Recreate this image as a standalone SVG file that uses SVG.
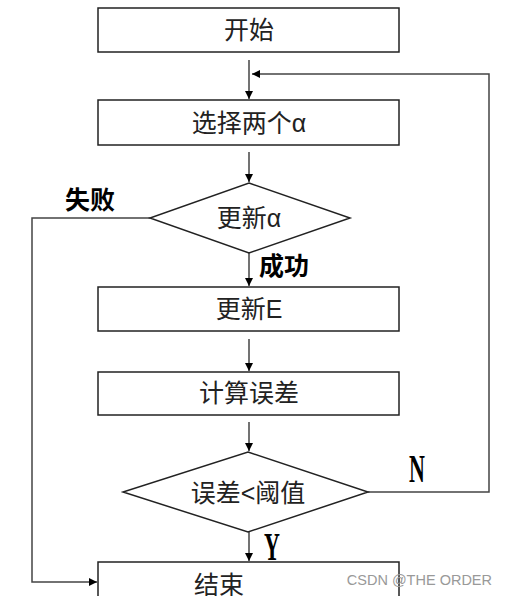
<svg xmlns="http://www.w3.org/2000/svg" width="507" height="596" viewBox="0 0 507 596">
<defs>
<marker id="ah" viewBox="0 0 10 10" refX="10" refY="5" markerWidth="8" markerHeight="8" markerUnits="userSpaceOnUse" orient="auto">
<path d="M0,0 L10,5 L0,10 z" fill="#000"/>
</marker>
<style>
.box{fill:#fff;stroke:#222;stroke-width:1.5}
.t{font-family:"Liberation Sans","Noto Sans CJK SC",sans-serif;font-size:25px;fill:#222;text-anchor:middle;dominant-baseline:central}
.lb{font-family:"Liberation Sans","Noto Sans CJK SC",sans-serif;font-size:25px;font-weight:bold;fill:#000}
.yn{font-family:"Liberation Serif","Noto Serif CJK SC",serif;font-size:40px;font-weight:bold;fill:#000}
.ln{fill:none;stroke:#444;stroke-width:1.5}
</style>
</defs>
<rect width="507" height="596" fill="#fff"/>
<g id="connectors">
<line class="ln" x1="249" y1="60" x2="249" y2="99" marker-end="url(#ah)"/>
<polyline class="ln" points="368,492 489,492 489,74 252,74" marker-end="url(#ah)"/>
<line class="ln" x1="249" y1="152" x2="249" y2="182" marker-end="url(#ah)"/>
<line class="ln" x1="249" y1="253" x2="249" y2="286" marker-end="url(#ah)"/>
<line class="ln" x1="249" y1="339" x2="249" y2="371" marker-end="url(#ah)"/>
<line class="ln" x1="249" y1="422" x2="249" y2="451" marker-end="url(#ah)"/>
<line class="ln" x1="249" y1="532" x2="249" y2="561" marker-end="url(#ah)"/>
<polyline class="ln" points="150,218 32,218 32,582 97,582" marker-end="url(#ah)"/>
<text class="lb" x="65" y="209">失败</text>
<text class="lb" x="259" y="275">成功</text>
<text class="yn" x="409" y="482" transform="translate(409 0) scale(0.55 1) translate(-409 0)">N</text>
<text class="yn" x="264" y="560" transform="translate(264 0) scale(0.55 1) translate(-264 0)">Y</text>
</g>
<g id="start"><rect class="box" x="98" y="8" width="301" height="44"/><text class="t" x="249" y="30">开始</text></g>
<g id="select"><rect class="box" x="98" y="100" width="301" height="45"/><text class="t" x="249" y="123">选择两个α</text></g>
<g id="update-alpha"><polygon class="box" points="249,183 350,218 249,253 150,218"/><text class="t" x="249" y="218">更新α</text></g>
<g id="update-e"><rect class="box" x="98" y="287" width="301" height="44"/><text class="t" x="249" y="309">更新E</text></g>
<g id="calc"><rect class="box" x="98" y="372" width="301" height="43"/><text class="t" x="249" y="393">计算误差</text></g>
<g id="check"><polygon class="box" points="248,452 368,492 248,532 123,492"/><text class="t" x="248" y="493">误差&lt;阈值</text></g>
<g id="end"><rect class="box" x="98" y="562" width="301" height="44"/><text class="t" x="219" y="585">结束</text></g>
<text x="492" y="585" font-family="'Liberation Sans',sans-serif" font-size="14.5" fill="#999" text-anchor="end">CSDN @THE ORDER</text>
</svg>
